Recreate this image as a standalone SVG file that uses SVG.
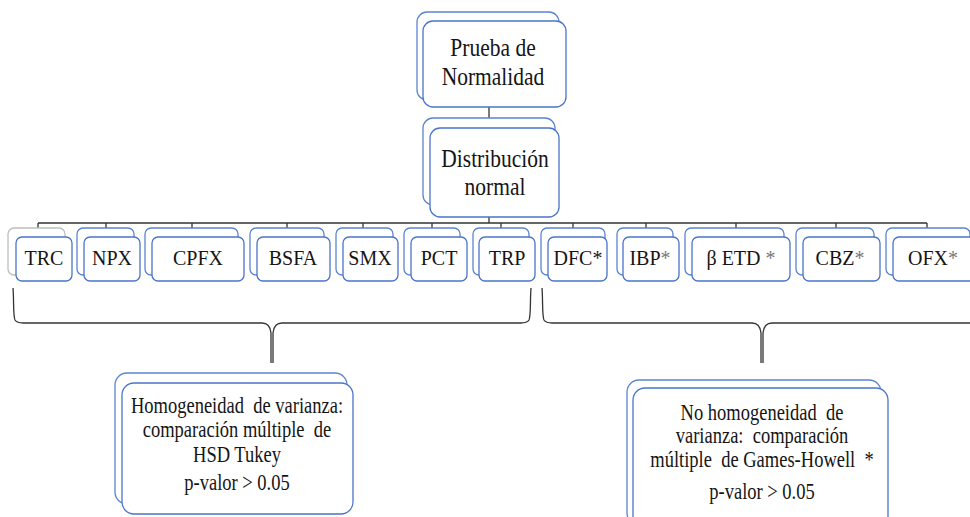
<svg xmlns="http://www.w3.org/2000/svg" width="970" height="517" viewBox="0 0 970 517">
<style>
.bk{fill:#fff;stroke:#5b84d0;stroke-width:1.3}
.fr{fill:#fff;stroke:#4a74c9;stroke-width:1.3}
.gr{fill:#fff;stroke:#bdbdbd;stroke-width:1.3}
.t{font-family:"Liberation Serif","Times New Roman",serif;fill:#151515;text-anchor:middle;white-space:pre}
.l{font-size:20px}
.m{font-size:21.5px}
.s{font-size:18.5px}
.ast{fill:#777}
.cn{fill:none;stroke:#333;stroke-width:1.3}
</style>
<rect width="970" height="517" fill="#fff"/>
<g id="connectors">
<path class="cn" d="M489 107V118M489 217V223M38 223H927M38 223V228M106 223V228M192 223V228M287 223V228M363 223V228M432 223V228M501 223V228M573 223V228M646 223V228M736 223V228M836 223V228M927 223V228"/>
<path class="cn" d="M13 288C14 300 13 316 15 320Q17 323 23 323H262Q270 323 271 333V363M531 288C530 300 531 316 529 320Q527 323 521 323H282Q274 323 273 333V363"/>
<path class="cn" d="M542 288C543 300 542 316 544 320Q546 323 552 323H752Q760 323 761 333V363M990 323H772Q764 323 763 333V363"/>
</g>
<g id="n-prueba">
<rect class="bk" x="417" y="12" width="142" height="88" rx="10"/>
<rect class="fr" x="423" y="21" width="143" height="86" rx="10"/>
<text class="t m" transform="matrix(1 0 0 1.15 493 56)">Prueba de</text>
<text class="t m" transform="matrix(1 0 0 1.15 493 85)">Normalidad</text>
</g>
<g id="n-distribucion">
<rect class="bk" x="423" y="118" width="132" height="87" rx="10"/>
<rect class="fr" x="430" y="128" width="129" height="89" rx="10"/>
<text class="t m" transform="matrix(1 0 0 1.15 495 167)">Distribución</text>
<text class="t m" transform="matrix(1 0 0 1.15 495 195)">normal</text>
</g>
<g id="n-trc">
<rect class="gr" x="8" y="228" width="57" height="47" rx="6"/>
<rect class="fr" x="16" y="237" width="56" height="44" rx="6"/>
<text class="t l" transform="matrix(1 0 0 1.1 44 265)">TRC</text>
</g>
<g id="n-npx">
<rect class="bk" x="77" y="228" width="57" height="47" rx="6"/>
<rect class="fr" x="84" y="237" width="56" height="44" rx="6"/>
<text class="t l" transform="matrix(1 0 0 1.1 112 265)">NPX</text>
</g>
<g id="n-cpfx">
<rect class="bk" x="145" y="228" width="93" height="47" rx="6"/>
<rect class="fr" x="152" y="237" width="92" height="44" rx="6"/>
<text class="t l" transform="matrix(1 0 0 1.1 198 265)">CPFX</text>
</g>
<g id="n-bsfa">
<rect class="bk" x="250" y="228" width="74" height="47" rx="6"/>
<rect class="fr" x="257" y="237" width="73" height="44" rx="6"/>
<text class="t l" transform="matrix(1 0 0 1.1 293 265)">BSFA</text>
</g>
<g id="n-smx">
<rect class="bk" x="336" y="228" width="57" height="47" rx="6"/>
<rect class="fr" x="343" y="237" width="55" height="44" rx="6"/>
<text class="t l" transform="matrix(1 0 0 1.1 370 265)">SMX</text>
</g>
<g id="n-pct">
<rect class="bk" x="404" y="228" width="56" height="47" rx="6"/>
<rect class="fr" x="411" y="237" width="56" height="44" rx="6"/>
<text class="t l" transform="matrix(1 0 0 1.1 439 265)">PCT</text>
</g>
<g id="n-trp">
<rect class="bk" x="473" y="228" width="56" height="47" rx="6"/>
<rect class="fr" x="479" y="237" width="56" height="44" rx="6"/>
<text class="t l" transform="matrix(1 0 0 1.1 507 265)">TRP</text>
</g>
<g id="n-dfc">
<rect class="bk" x="541" y="228" width="64" height="47" rx="6"/>
<rect class="fr" x="548" y="237" width="59" height="44" rx="6"/>
<text class="t l" transform="matrix(1 0 0 1.1 578 265)">DFC*</text>
</g>
<g id="n-ibp">
<rect class="bk" x="617" y="228" width="56" height="47" rx="6"/>
<rect class="fr" x="623" y="237" width="56" height="44" rx="6"/>
<text class="t l" transform="matrix(1 0 0 1.1 650 265)">IBP<tspan class="ast">*</tspan></text>
</g>
<g id="n-betd">
<rect class="bk" x="685" y="228" width="99" height="47" rx="6"/>
<rect class="fr" x="692" y="237" width="98" height="44" rx="6"/>
<text class="t l" transform="matrix(1 0 0 1.1 741 265)">β ETD <tspan class="ast">*</tspan></text>
</g>
<g id="n-cbz">
<rect class="bk" x="796" y="228" width="78" height="47" rx="6"/>
<rect class="fr" x="803" y="237" width="77" height="44" rx="6"/>
<text class="t l" transform="matrix(1 0 0 1.1 840 265)">CBZ<tspan class="ast">*</tspan></text>
</g>
<g id="n-ofx">
<rect class="bk" x="886" y="228" width="84" height="47" rx="6"/>
<rect class="fr" x="893" y="237" width="84" height="44" rx="6"/>
<text class="t l" transform="matrix(1 0 0 1.1 933 265)">OFX<tspan class="ast">*</tspan></text>
</g>
<g id="n-homog">
<rect class="bk" x="115" y="373" width="232" height="131" rx="12"/>
<rect class="fr" x="122" y="383" width="231" height="131" rx="12"/>
<text class="t s" transform="matrix(1 0 0 1.25 237 413)">Homogeneidad  de varianza:</text>
<text class="t s" transform="matrix(1 0 0 1.25 237 437)">comparación múltiple  de</text>
<text class="t s" transform="matrix(1 0 0 1.25 237 462)">HSD Tukey</text>
<text class="t s" transform="matrix(1 0 0 1.25 237 490)">p-valor &gt; 0.05</text>
</g>
<g id="n-nohomog">
<rect class="bk" x="627" y="380" width="254" height="145" rx="12"/>
<rect class="fr" x="633" y="388" width="255" height="140" rx="12"/>
<text class="t s" transform="matrix(1 0 0 1.25 762 420)">No homogeneidad  de</text>
<text class="t s" transform="matrix(1 0 0 1.25 762 443)">varianza:  comparación</text>
<text class="t s" transform="matrix(1 0 0 1.25 762 467)">múltiple  de Games-Howell  *</text>
<text class="t s" transform="matrix(1 0 0 1.25 762 499)">p-valor &gt; 0.05</text>
</g>
</svg>
